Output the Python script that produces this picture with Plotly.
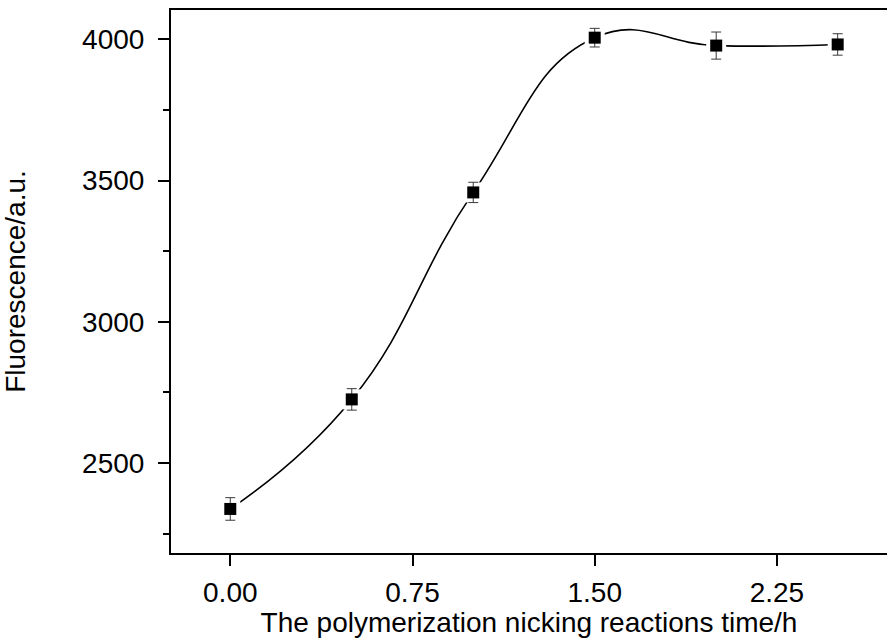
import plotly.graph_objects as go

# Reaction time (h) and fluorescence readings with their errors
time_h = [0.0, 0.5, 1.0, 1.5, 2.0, 2.5]
fluorescence = [2337, 2725, 3458, 4006, 3978, 3982]
fluor_err = [40, 38, 36, 33, 48, 38]

x_ticks = [0.0, 0.75, 1.5, 2.25]
x_tick_text = ["0.00", "0.75", "1.50", "2.25"]
y_ticks = [2500, 3000, 3500, 4000]

FONT = "Liberation Sans, Arial, sans-serif"

fig = go.Figure()

# smooth curve through the measurements
fig.add_trace(go.Scatter(
    x=time_h, y=fluorescence, mode="lines",
    line=dict(shape="spline", smoothing=1.3, color="black", width=1.6),
    hoverinfo="skip", showlegend=False,
))

# white halo so the curve stops short of each symbol
fig.add_trace(go.Scatter(
    x=time_h, y=fluorescence, mode="markers",
    marker=dict(symbol="square", size=20, color="white"),
    hoverinfo="skip", showlegend=False,
))

# measured points with error bars
fig.add_trace(go.Scatter(
    x=time_h, y=fluorescence, mode="markers",
    marker=dict(symbol="square", size=12, color="black"),
    error_y=dict(type="data", array=fluor_err, visible=True,
                 color="#3a3a3a", thickness=1, width=5),
    showlegend=False,
))

fig.update_layout(
    width=887, height=638,
    margin=dict(l=171, r=0, t=10, b=85),
    paper_bgcolor="white", plot_bgcolor="white",
    font=dict(family=FONT, size=28, color="black"),
    xaxis=dict(
        range=[-0.244, 2.703],
        tickvals=x_ticks, ticktext=x_tick_text,
        ticks="outside", ticklen=11, tickwidth=1.5, tickcolor="black",
        showline=True, linecolor="black", linewidth=2, mirror=True,
        showgrid=False, zeroline=False,
        ticklabelstandoff=2,
        title=dict(text="The polymerization nicking reactions time/h",
                   font=dict(family=FONT, size=28), standoff=2),
    ),
    yaxis=dict(
        range=[2181, 4104],
        tickvals=y_ticks,
        ticks="outside", ticklen=11, tickwidth=1.5, tickcolor="black",
        minor=dict(dtick=250, tick0=2250, ticks="outside", ticklen=6,
                   tickwidth=1.5, tickcolor="black"),
        showline=True, linecolor="black", linewidth=2, mirror=False,
        showgrid=False, zeroline=False,
        ticklabelstandoff=8,
        title=dict(text="Fluorescence/a.u.",
                   font=dict(family=FONT, size=28), standoff=50),
    ),
)

fig.write_html("out.html")
